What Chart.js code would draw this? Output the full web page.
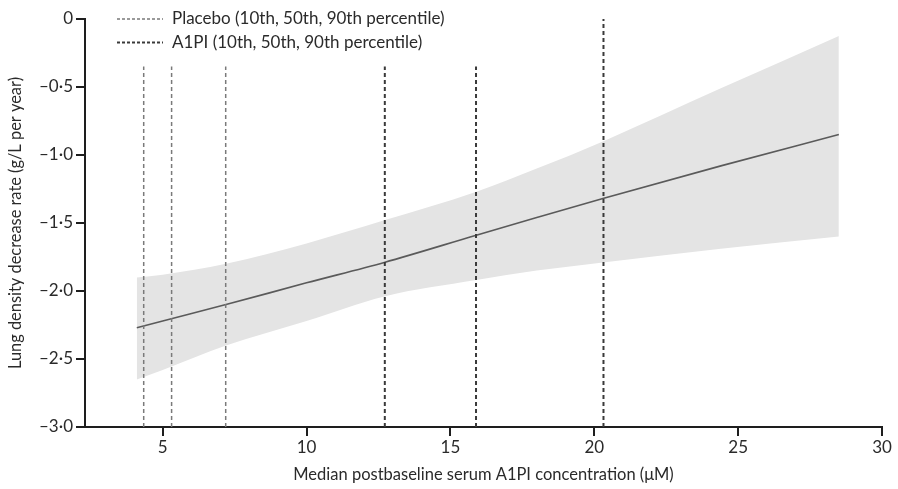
<!DOCTYPE html>
<html>
<head>
<meta charset="utf-8">
<script src="https://cdn.jsdelivr.net/npm/chart.js@4.4.1/dist/chart.umd.min.js"></script>
<style>
  html, body { margin: 0; padding: 0; background: #fff; }
  #wrap { width: 898px; height: 489px; }
</style>
</head>
<body>
<div id="wrap"><canvas id="myChart" width="898" height="489"></canvas></div>
<script>
// curve sampled off the figure (x = median serum A1PI, µM)
var concX   = [4.1, 5, 7.2, 10, 12.7, 15.9, 18, 20.3, 24.4, 28.5];
var rateMid = [-2.27, -2.22, -2.10, -1.94, -1.79, -1.59, -1.46, -1.32, -1.08, -0.85];
var rateHi  = [-1.90, -1.88, -1.80, -1.65, -1.48, -1.27, -1.10, -0.90, -0.51, -0.125];
var rateLo  = [-2.65, -2.58, -2.40, -2.22, -2.04, -1.92, -1.85, -1.79, -1.69, -1.60];

// percentile markers
var placeboPct = [4.34, 5.31, 7.19];
var a1piPct    = [12.72, 15.89, 20.32];
var placeboTop = [-0.35, -0.35, -0.35];
var a1piTop    = [-0.35, -0.35, 0];

var yTicks = [0, -0.5, -1, -1.5, -2, -2.5, -3];
var xTicks = [5, 10, 15, 20, 25, 30];

var legendLabels = ['Placebo (10th, 50th, 90th percentile)', 'A1PI (10th, 50th, 90th percentile)'];

var FONT = 'Lato, "Open Sans", sans-serif';
var FSIZE = 17;

function pts(xs, ys) {
    var out = [];
    for (var i = 0; i < xs.length; i++) out.push({x: xs[i], y: ys[i]});
    return out;
}

function vline(x, top, color, width, label) {
    return {
        label: label,
        data: [{x: x, y: -3}, {x: x, y: top}],
        borderColor: color,
        borderWidth: width,
        borderDash: [4, 3],
        pointRadius: 0,
        fill: false,
        order: 0
    };
}

var datasets = [
    {   // upper edge of band, filled down to next dataset
        data: pts(concX, rateHi),
        borderWidth: 0,
        borderColor: 'rgba(0,0,0,0)',
        backgroundColor: '#e4e4e4',
        pointRadius: 0,
        fill: '+1',
        order: 10,
        cubicInterpolationMode: 'monotone'
    },
    {
        data: pts(concX, rateLo),
        borderWidth: 0,
        borderColor: 'rgba(0,0,0,0)',
        pointRadius: 0,
        fill: false,
        order: 11,
        cubicInterpolationMode: 'monotone'
    },
    {
        data: pts(concX, rateMid),
        borderColor: '#5a5a5a',
        borderWidth: 1.6,
        pointRadius: 0,
        fill: false,
        order: 2,
        cubicInterpolationMode: 'monotone'
    }
];

for (var i = 0; i < placeboPct.length; i++) {
    datasets.push(vline(placeboPct[i], placeboTop[i], '#7a7a7a', 1.5, 'placebo'));
}
for (var j = 0; j < a1piPct.length; j++) {
    datasets.push(vline(a1piPct[j], a1piTop[j], '#3a3a3a', 2, 'a1pi'));
}

function fmtNum(v) {
    if (v === 0) return '0';
    var s = Math.abs(v).toFixed(1).replace('.', '\u00b7');
    return (v < 0 ? '\u2013' : '') + s;
}

// small legend in the upper left corner of the plot
var legendPlugin = {
    id: 'cornerLegend',
    afterDraw: function(chart) {
        var ctx = chart.ctx;
        var styles = [
            {color: '#7a7a7a', width: 1.3, dash: [3, 2]},
            {color: '#3a3a3a', width: 1.8, dash: [3, 2]}
        ];
        ctx.save();
        ctx.font = FSIZE + 'px ' + FONT;
        ctx.textBaseline = 'middle';
        for (var k = 0; k < legendLabels.length; k++) {
            var yy = 19 + k * 23.5;
            ctx.beginPath();
            ctx.setLineDash(styles[k].dash);
            ctx.strokeStyle = styles[k].color;
            ctx.lineWidth = styles[k].width;
            ctx.moveTo(117, yy);
            ctx.lineTo(163, yy);
            ctx.stroke();
            ctx.setLineDash([]);
            ctx.fillStyle = '#2a2a2a';
            ctx.fillText(legendLabels[k], 172, yy);
        }
        ctx.restore();
    }
};

var ctx = document.getElementById('myChart').getContext('2d');
var chart = new Chart(ctx, {
    type: 'line',
    data: { datasets: datasets },
    plugins: [legendPlugin],
    options: {
        responsive: false,
        animation: false,
        layout: { padding: { top: 19, right: 16, left: 0, bottom: 0 } },
        plugins: {
            legend: { display: false },
            tooltip: { enabled: false }
        },
        scales: {
            x: {
                type: 'linear',
                min: 2.3,
                max: 30,
                afterFit: function(s) { s.height = 62; },
                afterBuildTicks: function(s) {
                    s.ticks = xTicks.map(function(v) { return {value: v}; });
                },
                border: { display: true, color: '#1e1e1e', width: 2 },
                grid: { display: true, drawOnChartArea: false, drawTicks: true, tickLength: 9, color: '#1e1e1e', lineWidth: 2 },
                ticks: { color: '#2a2a2a', padding: 1, font: { family: FONT, size: FSIZE } },
                title: {
                    display: true,
                    text: 'Median postbaseline serum A1PI concentration (\u03bcM)',
                    color: '#2a2a2a',
                    padding: 4,
                    font: { family: FONT, size: 16.5 }
                }
            },
            y: {
                min: -3,
                max: 0,
                afterFit: function(s) { s.width = 85; },
                afterBuildTicks: function(s) {
                    s.ticks = yTicks.map(function(v) { return {value: v}; });
                },
                border: { display: true, color: '#1e1e1e', width: 2 },
                grid: { display: true, drawOnChartArea: false, drawTicks: true, tickLength: 9, color: '#1e1e1e', lineWidth: 2 },
                ticks: {
                    color: '#2a2a2a',
                    padding: 3,
                    font: { family: FONT, size: FSIZE },
                    callback: function(v) { return fmtNum(v); }
                },
                title: {
                    display: true,
                    text: 'Lung density decrease rate (g/L per year)',
                    color: '#2a2a2a',
                    padding: 6,
                    font: { family: FONT, size: 16.4 }
                }
            }
        }
    }
});
</script>
</body>
</html>
